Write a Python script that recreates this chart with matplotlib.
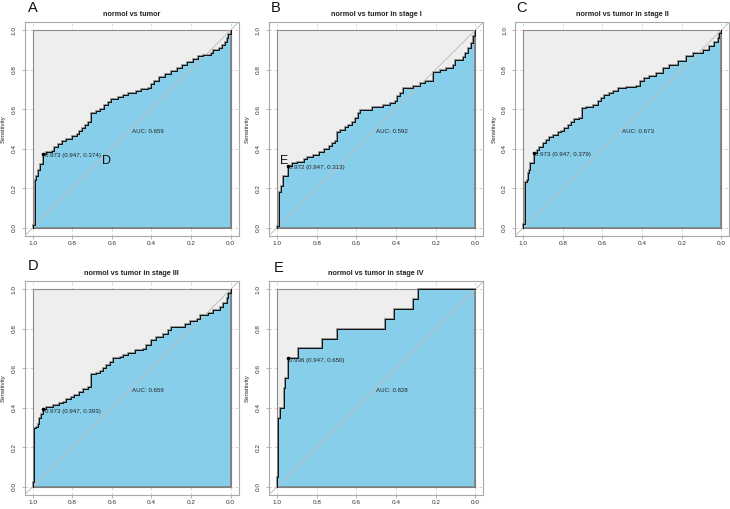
import numpy as np
import matplotlib.pyplot as plt

plt.rcParams['font.family'] = ['Liberation Sans', 'DejaVu Sans']

W, H = 730, 509

titles = ['normol vs tumor', 'normol vs tumor in stage I', 'normol vs tumor in stage II',
          'normol vs tumor in stage III', 'normol vs tumor in stage IV']
letters = ['A', 'B', 'C', 'D', 'E']
auc_labels = ['AUC: 0.659', 'AUC: 0.592', 'AUC: 0.673', 'AUC: 0.659', 'AUC: 0.828']
thres_labels = ['0.973 (0.947, 0.374)', '0.972 (0.947, 0.313)', '0.973 (0.947, 0.379)',
                '0.973 (0.947, 0.393)', '0.936 (0.947, 0.650)']
thres_spec = [0.947, 0.947, 0.947, 0.947, 0.947]
thres_sens = [0.374, 0.313, 0.379, 0.393, 0.650]

# ROC risers: at specificity x, sensitivity rises to y
spec_a = [1.0, 0.99, 0.983, 0.975, 0.965, 0.947, 0.932, 0.905, 0.89, 0.87, 0.85, 0.83, 0.80,
          0.775, 0.765, 0.75, 0.735, 0.72, 0.705, 0.68, 0.66, 0.64, 0.62, 0.605, 0.57, 0.545,
          0.52, 0.48, 0.455, 0.42, 0.40, 0.385, 0.36, 0.33, 0.30, 0.27, 0.245, 0.22, 0.19,
          0.165, 0.14, 0.10, 0.09, 0.06, 0.045, 0.03, 0.02, 0.012, 0.0]
sens_a = [0.014, 0.242, 0.26, 0.29, 0.32, 0.374, 0.385, 0.39, 0.41, 0.425, 0.44, 0.45, 0.465,
          0.475, 0.49, 0.505, 0.52, 0.535, 0.578, 0.59, 0.60, 0.62, 0.635, 0.652, 0.66, 0.672,
          0.68, 0.69, 0.70, 0.705, 0.725, 0.74, 0.76, 0.775, 0.795, 0.81, 0.825, 0.84, 0.855,
          0.87, 0.875, 0.885, 0.90, 0.91, 0.925, 0.94, 0.96, 0.98, 1.0]

spec_b = [1.0, 0.988, 0.98, 0.97, 0.947, 0.925, 0.90, 0.866, 0.85, 0.82, 0.79, 0.765, 0.74,
          0.724, 0.707, 0.698, 0.682, 0.657, 0.64, 0.623, 0.606, 0.59, 0.581, 0.523, 0.48,
          0.464, 0.43, 0.405, 0.397, 0.38, 0.363, 0.313, 0.28, 0.255, 0.213, 0.18, 0.146,
          0.112, 0.104, 0.062, 0.054, 0.037, 0.02, 0.012, 0.003]
sens_b = [0.01, 0.182, 0.21, 0.26, 0.313, 0.326, 0.334, 0.346, 0.36, 0.368, 0.385, 0.397, 0.415,
          0.427, 0.44, 0.486, 0.495, 0.507, 0.52, 0.537, 0.554, 0.58, 0.596, 0.61, 0.613,
          0.62, 0.63, 0.64, 0.664, 0.68, 0.706, 0.718, 0.73, 0.741, 0.79, 0.80, 0.807,
          0.824, 0.85, 0.863, 0.883, 0.909, 0.934, 0.968, 1.0]

spec_c = [1.0, 0.99, 0.983, 0.978, 0.973, 0.966, 0.947, 0.933, 0.919, 0.902, 0.886, 0.869,
          0.852, 0.827, 0.81, 0.793, 0.776, 0.759, 0.742, 0.717, 0.704, 0.684, 0.65, 0.625,
          0.608, 0.591, 0.566, 0.549, 0.524, 0.481, 0.431, 0.411, 0.389, 0.364, 0.33, 0.296,
          0.263, 0.221, 0.178, 0.145, 0.094, 0.061, 0.035, 0.019, 0.01, 0.0]
sens_c = [0.02, 0.233, 0.24, 0.275, 0.29, 0.326, 0.379, 0.393, 0.41, 0.427, 0.444, 0.46,
          0.47, 0.483, 0.49, 0.503, 0.52, 0.537, 0.549, 0.554, 0.605, 0.613, 0.622, 0.639,
          0.655, 0.672, 0.68, 0.693, 0.706, 0.711, 0.718, 0.74, 0.757, 0.769, 0.785, 0.807,
          0.824, 0.845, 0.867, 0.883, 0.90, 0.917, 0.937, 0.959, 0.985, 1.0]

spec_d = [1.0, 0.992, 0.983, 0.975, 0.966, 0.958, 0.947, 0.932, 0.899, 0.865, 0.848, 0.831,
          0.806, 0.789, 0.764, 0.747, 0.721, 0.704, 0.679, 0.662, 0.645, 0.628, 0.611, 0.595,
          0.561, 0.544, 0.519, 0.485, 0.443, 0.426, 0.40, 0.375, 0.341, 0.316, 0.299, 0.231,
          0.206, 0.172, 0.155, 0.113, 0.088, 0.054, 0.037, 0.02, 0.012, 0.0]
sens_d = [0.025, 0.296, 0.304, 0.32, 0.346, 0.37, 0.393, 0.405, 0.414, 0.422, 0.43, 0.443,
          0.456, 0.465, 0.481, 0.493, 0.503, 0.57, 0.578, 0.588, 0.60, 0.617, 0.633, 0.65,
          0.655, 0.667, 0.679, 0.693, 0.696, 0.718, 0.743, 0.757, 0.774, 0.794, 0.81, 0.824,
          0.84, 0.848, 0.87, 0.882, 0.895, 0.912, 0.929, 0.954, 0.98, 1.0]

spec_e = [1.0, 0.995, 0.983, 0.966, 0.958, 0.947, 0.895, 0.772, 0.699, 0.456, 0.409, 0.316, 0.29]
sens_e = [0.05, 0.35, 0.40, 0.50, 0.55, 0.65, 0.70, 0.75, 0.80, 0.85, 0.90, 0.95, 1.0]

specs = [spec_a, spec_b, spec_c, spec_d, spec_e]
senss = [sens_a, sens_b, sens_c, sens_d, sens_e]

ticks = [0.0, 0.2, 0.4, 0.6, 0.8, 1.0]
tick_labels = ['0.0', '0.2', '0.4', '0.6', '0.8', '1.0']

# axes boxes in pixels: left, top, right, bottom
boxes = [(24.8, 22.1, 238.6, 235.6), (269.1, 22.1, 483.4, 235.6), (515.3, 22.1, 729.3, 235.6),
         (24.8, 281.3, 238.6, 494.7), (269.1, 281.3, 483.4, 494.7)]
letter_pos = [(28, 7.5), (271, 7.5), (516, 7.5), (28, 266.5), (274, 268)]

frame_col = '#a8a8a8'
txt_col = '#222222'


def staircase(spec, sens):
    xs, ys = [1.0], [0.0]
    for x, y in zip(spec, sens):
        xs += [x, x]
        ys += [ys[-1], y]
    if xs[-1] != 0.0:
        xs.append(0.0)
        ys.append(ys[-1])
    return np.array(xs), np.array(ys)


fig = plt.figure(figsize=(W / 100, H / 100), dpi=100)

for i in range(5):
    l, t, r, b = boxes[i]
    ax = fig.add_axes([l / W, 1 - b / H, (r - l) / W, (b - t) / H])
    ax.set_xlim(1.04, -0.04)
    ax.set_ylim(-0.04, 1.04)

    # grid
    for v in ticks:
        ax.axhline(v, color='#f2b5b5', lw=0.6, ls=(0, (3, 3)), zorder=0)
        ax.axvline(v, color='#b5e3b5', lw=0.6, ls=(0, (3, 3)), zorder=0)

    # max auc polygon
    ax.fill([1, 1, 0, 0], [0, 1, 1, 0], facecolor='#EEEEEE', edgecolor='#8c8c8c', lw=0.8, zorder=1)

    xs, ys = staircase(specs[i], senss[i])
    px = np.concatenate([xs, [0.0, 1.0]])
    py = np.concatenate([ys, [0.0, 0.0]])
    ax.fill(px, py, facecolor='#87CEEB', edgecolor='#7a7a7a', lw=1.1, zorder=2)

    ax.plot([1.04, -0.04], [-0.04, 1.04], color='#c0c0c0', lw=0.7, zorder=3)
    ax.plot(xs, ys, color='#111111', lw=0.7, zorder=4)
    ax.plot(thres_spec[i], thres_sens[i], 'o', color='black', ms=1.6, zorder=5)

    ax.annotate(thres_labels[i], (thres_spec[i], thres_sens[i]), xytext=(1.2, 0.3),
                textcoords='offset points', ha='left', va='top', fontsize=4.4,
                color=txt_col, zorder=6)
    ax.text(0.5, 0.5, auc_labels[i], ha='left', va='top', fontsize=4.4, color=txt_col, zorder=6)

    ax.text(0.5, 1 + 7.4 / (b - t), titles[i], transform=ax.transAxes, ha='center',
            va='center', fontsize=5.2, fontweight='bold', color=txt_col)
    ax.text(-21.5 / (r - l), 0.5, 'Sensitivity', transform=ax.transAxes, rotation=90,
            ha='center', va='center', fontsize=4.4, color=txt_col)

    ax.set_xticks(ticks)
    ax.set_xticklabels(tick_labels)
    ax.set_yticks(ticks)
    ax.set_yticklabels(tick_labels, rotation=90, va='center')
    ax.tick_params(axis='both', length=2.5, width=0.6, color=frame_col, labelsize=4.6,
                   labelcolor='#333333')
    ax.tick_params(axis='x', pad=1.2)
    ax.tick_params(axis='y', pad=3.4)
    for s in ax.spines.values():
        s.set_color(frame_col)
        s.set_linewidth(0.8)

    lx, ly = letter_pos[i]
    fig.text(lx / W, 1 - ly / H, letters[i], ha='left', va='center', fontsize=10.5,
             color='#111111')

# stray letters sitting on the first two panels in the source image
fig.text(102 / W, 1 - 161.5 / H, 'D', ha='left', va='center', fontsize=9, color='#111111')
fig.text(280 / W, 1 - 161.5 / H, 'E', ha='left', va='center', fontsize=9, color='#111111')

fig.savefig('out.png', dpi=100)
